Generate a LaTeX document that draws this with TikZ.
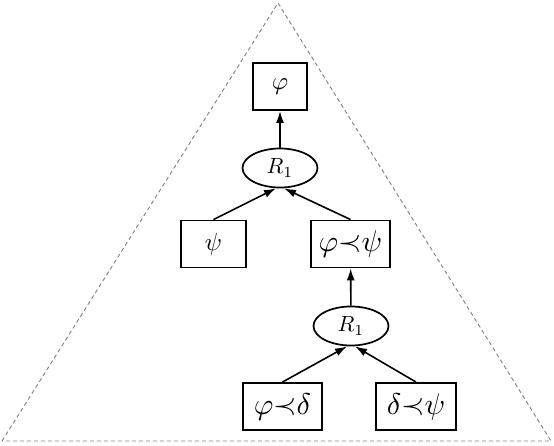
\documentclass[tikz,border=0pt]{standalone}
\usepackage{graphicx}
\usetikzlibrary{arrows.meta,shapes.geometric}
\newcommand{\lbltxt}[2][2.5]{\scalebox{#1}{$#2$}}
\begin{document}
\begin{tikzpicture}[x=1pt,y=-1pt,
  box/.style={draw,line width=1.9pt,minimum width=#1,minimum height=47pt,inner sep=0pt},
  rule/.style={draw,ellipse,line width=1.7pt,minimum width=75pt,minimum height=39pt,inner sep=0pt,fill=white},
  conn/.style={line width=1.6pt,-{Latex[length=12pt,width=8pt]}}]
\useasboundingbox (0,0) rectangle (554,446);
\coordinate (apex) at (278,3);
\coordinate (bl) at (2,441);
\coordinate (br) at (551,441);
\draw[gray,dashed,line width=0.9pt,dash pattern=on 4pt off 3pt] (bl) -- (apex) -- (br) -- cycle;
\node[box=54pt] (phi) at (280,86.5) {\lbltxt{\varphi}};
\node[rule] (ra) at (280,168) {\lbltxt[2.2]{R_1}};
\node[box=65pt] (psi) at (213.5,244) {\lbltxt{\psi}};
\node[box=79pt] (pp) at (350.5,244) {\lbltxt[3]{\varphi{\prec}\psi}};
\node[rule] (rb) at (351,326) {\lbltxt[2.2]{R_1}};
\node[box=79pt] (pd) at (282.5,406.5) {\lbltxt[3]{\varphi{\prec}\delta}};
\node[box=80pt] (dp) at (416,406.5) {\lbltxt[3]{\delta{\prec}\psi}};
\draw[conn] (ra) -- (phi);
\draw[conn] (psi.north) -- ([xshift=-4pt]ra.south);
\draw[conn] (pp.north) -- ([xshift=4pt]ra.south);
\draw[conn] (rb) -- (pp);
\draw[conn] (pd.north) -- ([xshift=-4pt]rb.south);
\draw[conn] (dp.north) -- ([xshift=4pt]rb.south);
\end{tikzpicture}
\end{document}
